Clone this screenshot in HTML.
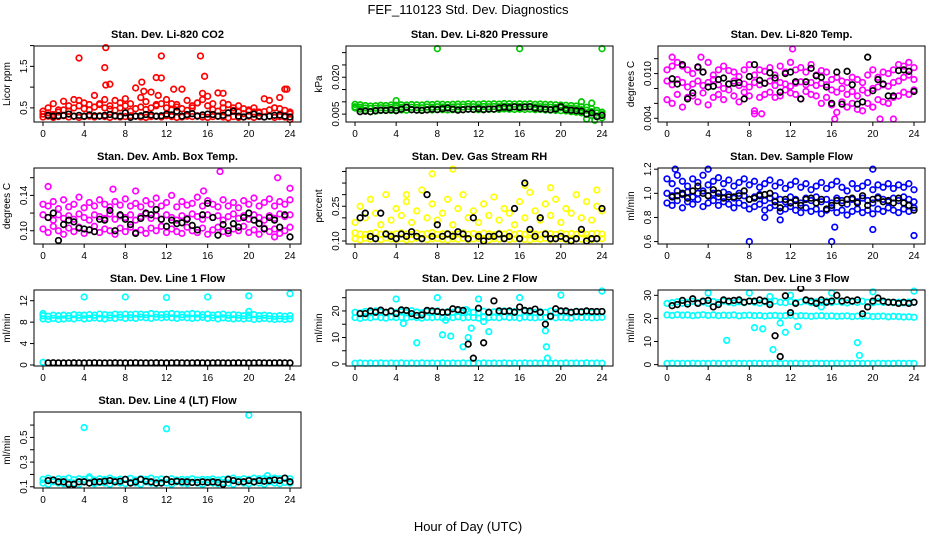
<!DOCTYPE html>
<html><head><meta charset="utf-8">
<style>
html,body{margin:0;padding:0;background:#fff;}
svg{display:block;font-family:"Liberation Sans",sans-serif;}
</style></head>
<body>
<svg id="chart" width="936" height="540" viewBox="0 0 936 540">
<text x="468" y="14" font-size="13" text-anchor="middle">FEF_110123  Std. Dev. Diagnostics</text>
<text x="468" y="531" font-size="13" text-anchor="middle">Hour of Day (UTC)</text>
</svg>
<script>
// ---- data ----
const xTicks = [0,4,8,12,16,20,24];
const xTickLabels = ["0","4","8","12","16","20","24"];

const co2A = [0.28,0.3,0.27,0.29,0.31,0.28,0.3,0.27,0.29,0.3,0.28,0.31,0.29,0.27,0.3,0.28,0.29,0.31,0.3,0.28,0.27,0.29,0.3,0.28,0.31,0.29,0.27,0.28,0.3,0.29,0.31,0.28,0.27,0.29,0.3,0.28,0.26,0.29,0.27,0.28,0.3,0.27,0.29,0.28,0.3,0.27,0.29,0.28,0.22];
const co2B = [0.35,0.38,0.34,0.4,0.45,0.42,0.5,0.55,0.48,0.45,0.52,0.58,0.5,0.47,0.44,0.5,0.55,0.42,0.48,0.52,0.46,0.5,0.55,0.6,0.5,0.45,0.52,0.48,0.44,0.5,0.62,0.7,0.55,0.46,0.42,0.5,0.38,0.44,0.4,0.36,0.42,0.4,0.38,0.41,0.45,0.5,0.48,0.44,0.36];
const co2C = [0.42,0.5,0.6,0.45,0.66,0.55,0.7,0.68,0.62,0.58,0.8,0.6,0.7,0.55,0.68,0.62,0.72,0.6,0.98,0.75,0.65,0.88,0.58,1.22,0.7,0.6,0.58,0.95,0.68,0.55,0.62,0.85,0.78,0.6,0.86,0.62,0.58,0.5,0.55,0.48,0.45,0.5,0.4,0.72,0.68,0.5,0.75,0.95,0.4];
const co2Out = [[3.5,1.7],[6.1,1.95],[6,1.47],[6.1,1.05],[6.5,1.07],[11.5,1.75],[15.3,1.75],[15.7,1.26],[11,1.23],[9.6,1.12],[9.8,0.9],[12.7,0.95],[11.2,0.8],[17.5,0.85],[23.7,0.95]];
const co2Black = [0.32,0.3,0.31,0.32,0.35,0.3,0.32,0.3,0.33,0.31,0.3,0.32,0.34,0.31,0.3,0.38,0.27,0.3,0.31,0.34,0.33,0.3,0.31,0.35,0.33,0.42,0.3,0.34,0.36,0.3,0.33,0.35,0.34,0.3,0.32,0.38,0.42,0.3,0.28,0.32,0.35,0.3,0.28,0.3,0.32,0.33,0.3,0.28];

const presA = [0.0075,0.007,0.0065,0.006,0.0062,0.0065,0.0066,0.0065,0.0066,0.0067,0.0066,0.0068,0.0067,0.0066,0.0068,0.0067,0.0069,0.0068,0.0067,0.0068,0.0069,0.0068,0.007,0.0069,0.0068,0.007,0.0069,0.007,0.0069,0.0071,0.007,0.0069,0.007,0.0069,0.007,0.0068,0.0069,0.0067,0.0066,0.0065,0.0064,0.0063,0.006,0.0058,0.0055,0.005,0.0045,0.004,0.0035];
const presB = [0.009,0.0088,0.0085,0.0083,0.0084,0.0086,0.0085,0.0087,0.0086,0.0088,0.0087,0.0089,0.0088,0.0087,0.009,0.0089,0.0091,0.009,0.0089,0.009,0.0091,0.009,0.0092,0.0091,0.009,0.0092,0.0091,0.0092,0.0091,0.0093,0.0092,0.0091,0.0092,0.0091,0.0092,0.009,0.0091,0.009,0.0089,0.0088,0.0087,0.0086,0.0085,0.0083,0.008,0.0078,0.0072,0.0065,0.0058];
const presC = [0.008,0.0078,0.0075,0.0073,0.0074,0.0076,0.0075,0.0077,0.0076,0.0078,0.0077,0.0078,0.0077,0.0076,0.0079,0.0078,0.008,0.0079,0.0078,0.0079,0.008,0.0079,0.0081,0.008,0.0079,0.0081,0.008,0.0081,0.008,0.0082,0.0081,0.008,0.0081,0.008,0.0081,0.0079,0.008,0.0079,0.0078,0.0077,0.0076,0.0075,0.0074,0.0072,0.0068,0.0066,0.006,0.0055,0.005];
const presOut = [[8,0.0316],[16,0.0316],[24,0.0316],[4,0.0105],[22,0.01],[22.5,0.003],[23.3,0.0025],[23,0.0095]];
const presBlack = [0.006,0.0062,0.006,0.0064,0.0066,0.0065,0.0068,0.0064,0.007,0.0078,0.0068,0.0066,0.0065,0.0067,0.007,0.0068,0.0072,0.0075,0.007,0.0066,0.0068,0.007,0.0069,0.0072,0.0068,0.0071,0.007,0.0075,0.0078,0.0076,0.008,0.0077,0.0079,0.008,0.0074,0.0072,0.007,0.0068,0.0071,0.008,0.0068,0.0066,0.0064,0.0062,0.005,0.0055,0.004,0.0045];

const tempA = [0.0105,0.011,0.0115,0.011,0.0105,0.01,0.0108,0.0102,0.0115,0.0098,0.0105,0.011,0.0104,0.0102,0.0096,0.0105,0.0112,0.0098,0.0105,0.0103,0.0108,0.0098,0.011,0.0102,0.0115,0.0105,0.0108,0.0102,0.0112,0.0098,0.0104,0.0102,0.0092,0.0095,0.009,0.0088,0.0095,0.0092,0.0088,0.0098,0.0105,0.0095,0.0102,0.01,0.0105,0.0112,0.011,0.0115,0.0108];
const tempB = [0.009,0.0085,0.0092,0.0088,0.0082,0.0086,0.009,0.0084,0.0088,0.0092,0.0085,0.008,0.0086,0.009,0.0084,0.0086,0.0082,0.0088,0.0085,0.0087,0.009,0.0084,0.0088,0.0086,0.0083,0.0087,0.0089,0.0085,0.0088,0.0084,0.0087,0.0085,0.0078,0.0075,0.008,0.0072,0.0076,0.007,0.0078,0.0074,0.008,0.0082,0.0085,0.0083,0.0088,0.009,0.0095,0.0098,0.0092];
const tempC = [0.0065,0.006,0.0072,0.0055,0.0068,0.007,0.0062,0.0074,0.0058,0.0068,0.0072,0.0065,0.0078,0.007,0.0062,0.0075,0.007,0.005,0.0068,0.0072,0.0075,0.0068,0.007,0.0078,0.0074,0.0072,0.0066,0.0076,0.0072,0.007,0.006,0.0068,0.0058,0.0048,0.0062,0.0055,0.006,0.0052,0.005,0.006,0.0055,0.0065,0.0062,0.006,0.0068,0.007,0.0075,0.0072,0.0078];
const tempOut = [[12.2,0.0133],[0.5,0.0122],[3.3,0.0122],[8.5,0.0046],[9.2,0.0046],[16.3,0.0039],[20.7,0.0039],[22,0.0039],[17.5,0.0055],[20,0.0055]];
const tempBlack = [0.0093,0.0086,0.0112,0.0066,0.0074,0.0109,0.0102,0.0082,0.0083,0.0092,0.0094,0.0086,0.0087,0.0088,0.0066,0.0096,0.0112,0.0091,0.0087,0.0101,0.0094,0.0075,0.01,0.0102,0.0089,0.0066,0.0089,0.0107,0.0097,0.0095,0.0082,0.006,0.0102,0.0059,0.0103,0.0085,0.0059,0.0062,0.0122,0.0077,0.0092,0.0086,0.007,0.007,0.0104,0.0105,0.0103,0.0076];

const ambA = [0.13,0.128,0.133,0.125,0.135,0.127,0.13,0.138,0.126,0.132,0.128,0.135,0.13,0.127,0.133,0.129,0.136,0.128,0.131,0.127,0.134,0.13,0.137,0.128,0.132,0.14,0.127,0.133,0.129,0.131,0.138,0.128,0.134,0.13,0.127,0.135,0.128,0.132,0.126,0.134,0.13,0.137,0.128,0.132,0.136,0.128,0.133,0.13,0.135];
const ambB = [0.118,0.115,0.112,0.118,0.114,0.117,0.113,0.119,0.115,0.112,0.118,0.116,0.114,0.119,0.113,0.117,0.115,0.118,0.112,0.116,0.119,0.114,0.117,0.113,0.118,0.115,0.112,0.117,0.114,0.119,0.116,0.113,0.118,0.115,0.117,0.112,0.116,0.119,0.114,0.117,0.113,0.118,0.115,0.112,0.117,0.114,0.119,0.116,0.118];
const ambC = [0.102,0.098,0.105,0.1,0.096,0.103,0.099,0.104,0.097,0.101,0.105,0.098,0.102,0.1,0.096,0.103,0.099,0.104,0.098,0.101,0.097,0.103,0.1,0.105,0.098,0.102,0.099,0.097,0.104,0.1,0.098,0.103,0.096,0.101,0.104,0.099,0.097,0.102,0.1,0.105,0.098,0.101,0.096,0.103,0.099,0.102,0.097,0.1,0.104];
const ambOut = [[0.5,0.15],[17.2,0.167],[22.8,0.16],[24,0.148],[6.8,0.147],[22.5,0.093],[9,0.145],[15.6,0.145]];
const ambBlack = [0.115,0.12,0.089,0.107,0.112,0.11,0.103,0.102,0.101,0.099,0.113,0.112,0.123,0.1,0.118,0.113,0.107,0.097,0.114,0.12,0.118,0.124,0.113,0.105,0.112,0.108,0.109,0.113,0.106,0.101,0.118,0.131,0.115,0.095,0.107,0.1,0.108,0.104,0.115,0.12,0.112,0.108,0.102,0.115,0.112,0.104,0.118,0.093];

const rhA = [0.11,0.105,0.112,0.108,0.11,0.106,0.112,0.109,0.107,0.111,0.105,0.108,0.112,0.11,0.106,0.109,0.111,0.107,0.105,0.11,0.108,0.112,0.106,0.109,0.111,0.107,0.105,0.11,0.108,0.112,0.106,0.109,0.111,0.107,0.105,0.11,0.108,0.112,0.106,0.109,0.111,0.107,0.105,0.11,0.108,0.112,0.106,0.109,0.11];
const rhB = [0.135,0.13,0.128,0.132,0.136,0.129,0.133,0.127,0.131,0.135,0.13,0.128,0.134,0.129,0.132,0.136,0.128,0.131,0.133,0.127,0.13,0.135,0.129,0.132,0.128,0.134,0.131,0.127,0.133,0.13,0.136,0.128,0.132,0.129,0.135,0.13,0.127,0.133,0.131,0.128,0.134,0.13,0.132,0.129,0.135,0.128,0.131,0.133,0.13];
const rhC = [0.18,0.25,0.2,0.28,0.22,0.17,0.3,0.19,0.24,0.21,0.27,0.18,0.23,0.32,0.2,0.26,0.19,0.22,0.28,0.17,0.24,0.3,0.2,0.23,0.18,0.26,0.21,0.29,0.19,0.24,0.22,0.17,0.27,0.2,0.31,0.23,0.19,0.26,0.21,0.28,0.18,0.24,0.22,0.3,0.2,0.27,0.19,0.25,0.23];
const rhOut = [[7.5,0.39],[9.5,0.41],[19,0.33],[16.5,0.34],[23.5,0.32],[5,0.3]];
const rhBlack = [0.2,0.22,0.12,0.11,0.22,0.13,0.12,0.11,0.13,0.12,0.14,0.12,0.11,0.3,0.12,0.17,0.12,0.13,0.12,0.14,0.13,0.11,0.2,0.12,0.1,0.12,0.12,0.13,0.11,0.12,0.24,0.11,0.35,0.15,0.12,0.2,0.13,0.11,0.11,0.12,0.11,0.1,0.11,0.15,0.1,0.11,0.11,0.24];

const sfA = [1.12,1.08,1.15,1.1,1.06,1.12,1.09,1.15,1.07,1.1,1.13,1.08,1.11,1.06,1.09,1.12,1.07,1.1,1.05,1.08,1.11,1.06,1.09,1.04,1.07,1.1,1.05,1.08,1.03,1.06,1.09,1.04,1.07,1.1,1.05,1.02,1.08,1.04,1.06,1.09,1.03,1.07,1.05,1.08,1.04,1.07,1.05,1.08,1.03];
const sfB = [1.0,0.98,1.02,0.99,1.01,0.97,1.0,1.02,0.98,1.0,0.97,1.01,0.99,0.96,1.0,0.98,0.95,0.97,0.99,0.94,0.96,0.98,0.95,0.93,0.97,0.95,0.92,0.96,0.94,0.97,0.93,0.95,0.92,0.96,0.94,0.91,0.95,0.93,0.96,0.94,0.92,0.97,0.95,0.93,0.96,0.94,0.97,0.95,0.93];
const sfC = [0.92,0.9,0.94,0.88,0.93,0.91,0.95,0.89,0.92,0.94,0.9,0.93,0.91,0.88,0.92,0.9,0.87,0.89,0.91,0.86,0.88,0.9,0.85,0.87,0.89,0.86,0.84,0.88,0.85,0.87,0.83,0.86,0.88,0.84,0.86,0.82,0.85,0.87,0.84,0.86,0.83,0.87,0.85,0.88,0.86,0.84,0.87,0.85,0.88];
const sfOut = [[0.8,1.2],[4,1.2],[20,1.2],[8,0.6],[16,0.6],[20,0.7],[24,0.65],[16.3,0.72],[9.5,0.8],[11,0.78]];
const sfBlack = [0.97,0.98,1.0,0.96,1.02,1.06,1.0,0.98,1.03,1.0,0.96,0.97,0.97,0.98,1.02,0.95,0.96,0.98,0.99,1.0,0.93,0.88,0.95,0.92,0.94,0.9,0.95,0.96,0.92,0.95,0.87,0.9,0.94,0.92,0.95,0.96,0.92,0.98,0.9,0.95,0.96,0.93,0.94,0.92,0.96,0.92,0.9,0.86];

const l1A = [8.6,8.5,8.7,8.5,8.6,8.7,8.6,8.8,8.6,8.7,8.8,8.7,8.6,8.8,8.7,8.9,8.7,8.8,8.7,8.9,8.8,8.7,8.9,8.8,8.9,8.8,8.7,8.9,8.8,8.7,8.8,8.9,8.7,8.8,8.6,8.8,8.7,8.6,8.7,8.6,8.7,8.5,8.6,8.7,8.6,8.5,8.6,8.5,8.6];
const l1B = [9.2,9.1,9.3,9.2,9.3,9.2,9.4,9.3,9.3,9.4,9.3,9.5,9.4,9.3,9.5,9.4,9.5,9.4,9.5,9.5,9.4,9.6,9.5,9.4,9.5,9.6,9.5,9.4,9.5,9.6,9.5,9.4,9.5,9.3,9.4,9.5,9.3,9.4,9.3,9.2,9.3,9.4,9.2,9.3,9.2,9.1,9.2,9.1,9.2];
const l1Out = [[0,9.6],[4,12.7],[8,12.7],[12,12.6],[16,12.7],[20,12.9],[24,13.3],[20,10],[0,0.5]];
const l1Black = [0.4,0.42,0.4,0.38,0.4,0.41,0.4,0.39,0.4,0.42,0.4,0.38,0.4,0.41,0.4,0.39,0.4,0.42,0.4,0.38,0.4,0.41,0.4,0.39,0.4,0.42,0.4,0.38,0.4,0.41,0.4,0.39,0.4,0.42,0.4,0.38,0.4,0.41,0.4,0.39,0.4,0.42,0.4,0.38,0.4,0.41,0.4,0.39];

const l2A = [17.5,17.2,17.6,17.4,17.8,17.5,17.3,17.7,17.5,17.6,17.4,17.8,17.5,17.3,17.6,17.5,17.7,17.4,17.6,17.5,17.8,17.4,17.6,17.5,17.3,17.7,17.5,17.6,17.4,17.8,17.5,17.6,17.3,17.7,17.5,17.4,17.6,17.5,17.8,17.4,17.6,17.5,17.3,17.7,17.5,17.6,17.4,17.5,17.6];
const l2B = [19.5,19.2,19.8,19.4,20,19.6,19.3,19.9,19.5,19.7,19.4,20.1,19.6,19.3,19.8,19.5,20,19.4,19.7,19.5,20.2,19.4,19.8,19.5,19.3,19.9,19.5,19.7,19.4,20,19.6,19.8,19.3,19.9,19.5,19.4,19.7,19.5,20,19.4,19.8,19.5,19.3,19.9,19.5,19.7,19.4,19.6,19.8];
const l2Zero = [0.3,0.4,0.3,0.35,0.3,0.4,0.3,0.35,0.3,0.4,0.3,0.35,0.3,0.4,0.3,0.35,0.3,0.4,0.3,0.35,0.3,0.4,0.3,0.35,0.3,0.4,0.3,0.35,0.3,0.4,0.3,0.35,0.3,0.4,0.3,0.35,0.3,0.4,0.3,0.35,0.3,0.4,0.3,0.35,0.3,0.4,0.3,0.35,0.3];
const l2Out = [[4,24.5],[8,25],[12,24.5],[16,25],[20,26],[24,27.5],[6,8],[8.5,11],[9.3,10.5],[10.5,6.5],[11,10],[11.3,13.5],[13,12.2],[18.6,6.5],[18.5,12.5],[18.7,2.2],[10.8,20.5],[12.5,16],[4.7,15.3],[8.8,16.5]];
const l2Black = [19,19,20,19.5,20.3,19.5,20,19,20.4,20.2,19,18.3,18.5,20.2,20,19.8,19.5,19.5,20.8,20.5,20.2,7.5,2.2,21,8,19.5,23.8,20,19.8,20,19.5,21.5,20.2,20,20.7,19.5,15,18,20.8,20,20,19.5,19.8,19.7,20,19.8,19.8,19.8];

const l3A = [26.5,26.8,27.2,26.6,27,27.4,26.8,27.1,26.5,27.3,26.9,27.5,27,26.7,27.2,26.8,27.4,27,26.6,27.2,26.9,27.5,27,26.8,27.3,26.9,27.1,27.6,26.8,27.2,27,27.5,26.9,27.3,27,26.7,27.2,26.9,27.4,27,26.8,27.2,26.9,27.1,26.8,27,26.7,27.1,26.9];
const l3B = [21.5,21.3,21.6,21.4,21.5,21.2,21.4,21.6,21.3,21.5,21.2,21.4,21.3,21.5,21.1,21.3,21.4,21.2,21.3,21,21.2,21.3,21.1,21.2,21.3,21,21.2,21.1,20.9,21.1,21.2,21,21.1,20.9,21,21.1,20.8,21,20.9,21.1,20.8,20.9,21,20.7,20.9,20.8,20.6,20.7,20.5];
const l3Zero = [0.5,0.6,0.5,0.55,0.5,0.6,0.5,0.55,0.5,0.6,0.5,0.55,0.5,0.6,0.5,0.55,0.5,0.6,0.5,0.55,0.5,0.6,0.5,0.55,0.5,0.6,0.5,0.55,0.5,0.6,0.5,0.55,0.5,0.6,0.5,0.55,0.5,0.6,0.5,0.55,0.5,0.6,0.5,0.55,0.5,0.6,0.5,0.55,0.5];
const l3Out = [[4,31],[8,31],[12,30],[16,31],[20,31.5],[24,31.8],[5.8,10.5],[8.5,16],[9.3,15.5],[10.3,6.5],[11,18],[11.5,14],[12.7,16.5],[18.5,9.5],[18.7,4],[10,29.5],[15,25]];
const l3Black = [25.5,26,27.8,26.2,28.5,26.5,27.5,27.8,25,26,28,27.5,27.8,28,27,27.5,27.5,28,27.5,26,12.5,3.5,29.8,22.5,26.5,33,28,27.5,26.5,28,27,27.5,30,27.5,28,27.5,28,22,25,27.5,28.8,27.5,27,27,26.5,27,26.5,27];

const l4A = [0.13,0.12,0.14,0.13,0.125,0.135,0.13,0.12,0.14,0.13,0.125,0.135,0.13,0.12,0.14,0.13,0.125,0.135,0.13,0.12,0.14,0.13,0.125,0.135,0.13,0.12,0.14,0.13,0.125,0.135,0.13,0.12,0.14,0.13,0.125,0.135,0.13,0.12,0.14,0.13,0.125,0.135,0.13,0.12,0.14,0.13,0.125,0.135,0.13];
const l4B = [0.16,0.17,0.155,0.165,0.16,0.17,0.158,0.165,0.16,0.168,0.155,0.165,0.16,0.17,0.155,0.162,0.16,0.168,0.155,0.165,0.16,0.17,0.158,0.163,0.16,0.165,0.155,0.16,0.158,0.165,0.155,0.16,0.158,0.163,0.155,0.16,0.165,0.17,0.158,0.165,0.16,0.17,0.165,0.168,0.16,0.17,0.165,0.17,0.165];
const l4Out = [[4,0.58],[12,0.57],[20,0.68],[21.8,0.19],[4.5,0.18]];
const l4Black = [0.15,0.155,0.14,0.14,0.12,0.12,0.14,0.14,0.13,0.14,0.14,0.145,0.15,0.14,0.145,0.16,0.13,0.14,0.16,0.145,0.14,0.13,0.13,0.16,0.14,0.145,0.14,0.14,0.135,0.135,0.14,0.135,0.14,0.135,0.12,0.16,0.15,0.14,0.14,0.15,0.14,0.15,0.145,0.15,0.155,0.15,0.17,0.14];

// ---- layout ----
const NS = "http://www.w3.org/2000/svg";
const svg = document.getElementById('chart');
const colLeft = [34, 346, 658];
const rowTop = [46, 168, 290, 412];
const BW = 267, BH = 76;

function mk(tag, attrs, parent){
  const e = document.createElementNS(NS, tag);
  for (const k in attrs) e.setAttribute(k, attrs[k]);
  (parent||svg).appendChild(e);
  return e;
}

function panel(col, row, key, title, ytitle, ymin, ymax, yTicks, yLabels, seriesList, color, outliers, black){
  const L = colLeft[col], T = rowTop[row];
  const g = mk('g', {});
  
  
  const xs = h => L + 9 + h * 247 / 24;
  const ys = v => T + BH - (v - ymin) / (ymax - ymin) * BH;
  const t = mk('text', {x: L + BW/2, y: T - 8, 'font-size': 11, 'font-weight': 'bold', 'text-anchor': 'middle'}, g);
  t.textContent = title;
  
  
  const yt = mk('text', {x: 0, y: 0, 'font-size': 10, 'text-anchor': 'middle', transform: `translate(${L-24},${T+BH/2}) rotate(-90)`}, g);
  yt.textContent = ytitle;
  
  
  const cid = 'clip-' + key;
  const cp = mk('clipPath', {id: cid}, g);
  mk('rect', {x: L - 3, y: T - 4, width: BW + 6, height: BH + 8}, cp);
  const pts = mk('g', {'clip-path': `url(#${cid})`, fill: 'none', 'stroke-width': 1.7}, g);
  
  
  seriesList.forEach(arr => {
    arr.forEach((v, i) => {
      const c = mk('circle', {cx: xs(i * 24 / (arr.length - 1)), cy: ys(v), r: 2.8, stroke: color}, pts);
      
      
    });
  });
  outliers.forEach(p => {
    const c = mk('circle', {cx: xs(p[0]), cy: ys(p[1]), r: 2.8, stroke: color}, pts);
    
    
  });
  black.forEach((v, i) => {
    const c = mk('circle', {cx: xs(0.5 + i * 0.5), cy: ys(v), r: 2.8, stroke: '#000'}, pts);
    
    
  });
  const box = mk('rect', {x: L, y: T, width: BW, height: BH, fill: 'none', stroke: '#000', 'stroke-width': 1}, g);
  
  
  xTicks.forEach((h, i) => {
    mk('line', {x1: xs(h), x2: xs(h), y1: T + BH, y2: T + BH + 4, stroke: '#000'}, g);
    const lb = mk('text', {x: xs(h), y: T + BH + 15, 'font-size': 10, 'text-anchor': 'middle'}, g);
    lb.textContent = xTickLabels[i];
    
    
  });
  yTicks.forEach((v, i) => {
    mk('line', {x1: L - 4, x2: L, y1: ys(v), y2: ys(v), stroke: '#000'}, g);
    if (yLabels[i]) {
      const lb = mk('text', {x: 0, y: 0, 'font-size': 10, 'text-anchor': 'middle', transform: `translate(${L-7},${ys(v)}) rotate(-90)`}, g);
      lb.textContent = yLabels[i];
      
      
    }
  });
}

panel(0,0,'co2','Stan. Dev. Li-820 CO2','Licor ppm',0.16,1.99,[0.5,1,1.5,2],['0.5','','1.5',''],[co2A,co2B,co2C],'#ff0000',co2Out,co2Black);
panel(1,0,'pressure','Stan. Dev. Li-820 Pressure','kPa',0.0018,0.0327,[0.005,0.01,0.015,0.02,0.025,0.03],['0.005','','','0.020','',''],[presA,presB,presC],'#00c800',presOut,presBlack);
panel(2,0,'li820-temp','Stan. Dev. Li-820 Temp.','degrees C',0.0035,0.0137,[0.004,0.006,0.008,0.01,0.012],['0.004','','','0.010',''],[tempA,tempB,tempC],'#ff00ff',tempOut,tempBlack);
panel(0,1,'amb-box-temp','Stan. Dev. Amb. Box Temp.','degrees C',0.085,0.171,[0.1,0.12,0.14,0.16],['0.10','','0.14',''],[ambA,ambB,ambC],'#ff00ff',ambOut,ambBlack);
panel(1,1,'gas-rh','Stan. Dev. Gas Stream RH','percent',0.087,0.415,[0.1,0.15,0.2,0.25,0.3,0.35,0.4],['0.10','','','0.25','','',''],[rhA,rhB,rhC],'#ffff00',rhOut,rhBlack);
panel(2,1,'sample-flow','Stan. Dev. Sample Flow','ml/min',0.58,1.21,[0.6,0.8,1.0,1.2],['0.6','0.8','1.0','1.2'],[sfA,sfB,sfC],'#0000ff',sfOut,sfBlack);
panel(0,2,'line1-flow','Stan. Dev. Line 1 Flow','ml/min',-0.19,14.0,[0,4,8,12],['0','4','8','12'],[l1A,l1B],'#00ffff',l1Out,l1Black);
panel(1,2,'line2-flow','Stan. Dev. Line 2 Flow','ml/min',-0.75,27.9,[0,5,10,15,20,25],['0','','10','','20',''],[l2Zero,l2A,l2B],'#00ffff',l2Out,l2Black);
panel(2,2,'line3-flow','Stan. Dev. Line 3 Flow','ml/min',-0.6,32.3,[0,10,20,30],['0','10','20','30'],[l3Zero,l3B,l3A],'#00ffff',l3Out,l3Black);
panel(0,3,'line4-flow','Stan. Dev. Line 4 (LT) Flow','ml/min',0.09,0.706,[0.1,0.2,0.3,0.4,0.5,0.6],['0.1','','0.3','','0.5',''],[l4A,l4B],'#00ffff',l4Out,l4Black);
</script>
</body></html>
